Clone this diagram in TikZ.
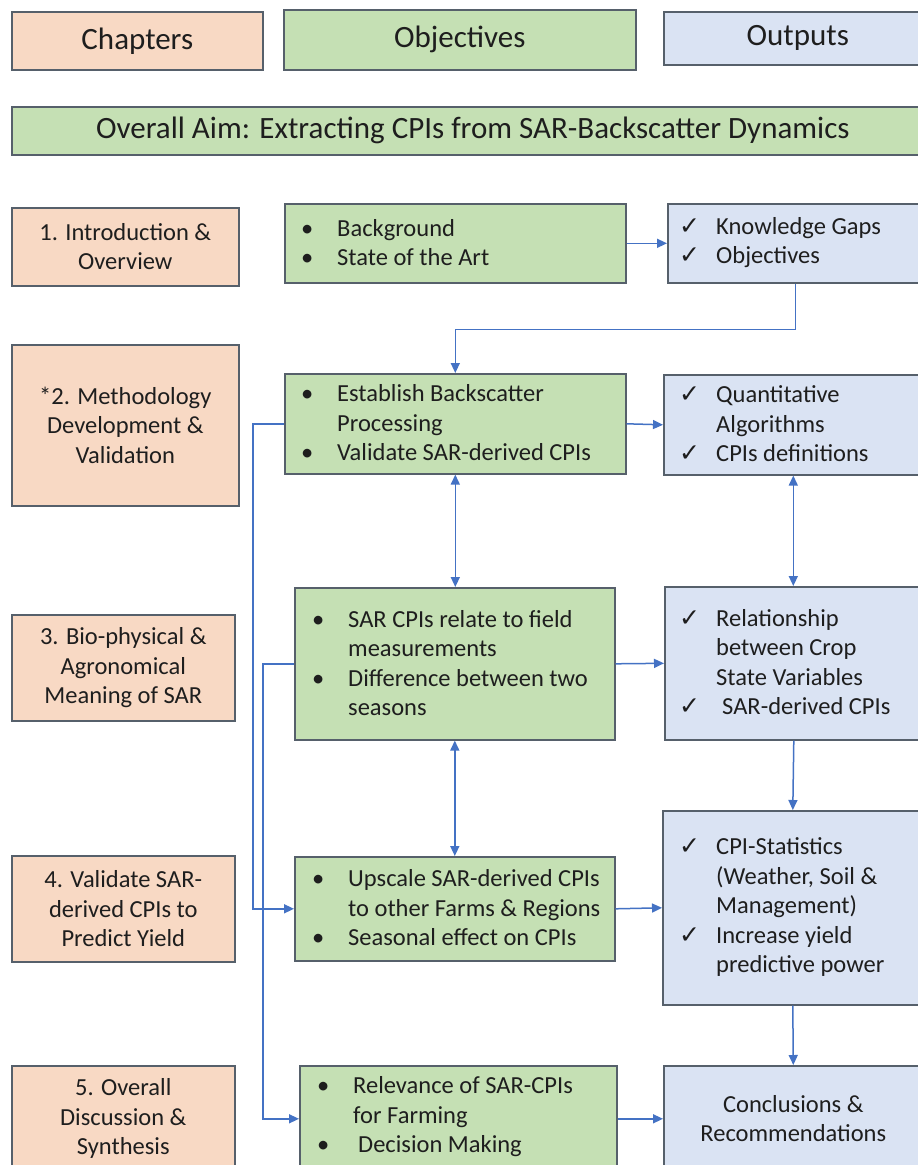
\documentclass[tikz,border=0pt]{standalone}
\usepackage{fontspec}
\setmainfont{Carlito}
\newfontfamily\dejavu{DejaVu Sans}
\usetikzlibrary{arrows.meta}
\definecolor{chapfill}{HTML}{F8D9C4}
\definecolor{objfill}{HTML}{C5E0B4}
\definecolor{outfill}{HTML}{DAE3F3}
\definecolor{boxline}{HTML}{56606B}
\definecolor{connc}{HTML}{4472C4}
\definecolor{txtc}{HTML}{1E1E1E}
\newcommand\bodyfont{\fontsize{24.5}{29.5}\selectfont}
\newcommand\headfont{\fontsize{31}{37}\selectfont}
\newcommand\myB{\makebox[36pt][l]{•}}
\newcommand\myI{\makebox[36pt]{}}
\newcommand\myC{\makebox[37pt][l]{{\dejavu\fontsize{25}{25}\selectfont ✓}}}
\newcommand\myJ{\makebox[37pt]{}}
\tikzset{
  box/.style={draw=boxline, line width=1.6pt, anchor=north west, inner sep=0pt, text=txtc},
  chap/.style={box, fill=chapfill, align=center, font=\bodyfont},
  obj/.style={box, fill=objfill},
  outb/.style={box, fill=outfill, align=center, font=\bodyfont},
  lst/.style={anchor=west, align=left, inner sep=0pt, text=txtc, font=\bodyfont},
  conn/.style={draw=connc, line width=1.5pt},
  arr/.style={conn, -{Triangle[length=10pt,width=9pt]}},
  darr/.style={conn, {Triangle[length=10pt,width=9pt]}-{Triangle[length=10pt,width=9pt]}}
}
\begin{document}
\begin{tikzpicture}[x=1pt,y=-1pt]
\useasboundingbox (0,0) rectangle (918,1165);
\clip (0,0) rectangle (918,1165);
\fill[white] (0,0) rectangle (918,1165);
% headers
\node[box, fill=chapfill, font=\headfont, minimum width=251pt, minimum height=58pt] (hch) at (11,11) {Chapters};
\node[box, fill=objfill, font=\headfont, minimum width=352pt, minimum height=60pt] (hob) at (283,9) {Objectives};
\node[box, fill=outfill, font=\headfont, minimum width=268pt, minimum height=53pt] (hou) at (663,11) {Outputs};
\node[box, fill=objfill, font=\headfont, minimum width=922pt, minimum height=48pt] (aim) at (11,106) {Overall Aim: Extracting CPIs from SAR-Backscatter Dynamics};
% chapters
\node[chap, minimum width=227pt, minimum height=78pt] (ch1) at (11,207) {1. Introduction \&\\Overview};
\node[chap, minimum width=227pt, minimum height=161pt] (ch2) at (11,344) {*2. Methodology\\Development \&\\Validation};
\node[chap, minimum width=223pt, minimum height=106pt] (ch3) at (11,614) {3. Bio-physical \&\\Agronomical\\Meaning of SAR};
\node[chap, minimum width=223pt, minimum height=106pt] (ch4) at (11,855) {4. Validate SAR-\\derived CPIs to\\Predict Yield};
\node[chap, minimum width=223pt, minimum height=106pt] (ch5) at (11,1065) {5. Overall\\Discussion \&\\Synthesis};
% objectives
\node[obj, minimum width=341pt, minimum height=79pt] (o1) at (284,203) {};
\node[obj, minimum width=341pt, minimum height=100pt] (o2) at (284,373) {};
\node[obj, minimum width=320pt, minimum height=152pt] (o3) at (294,587) {};
\node[obj, minimum width=320pt, minimum height=104pt] (o4) at (294,856) {};
\node[obj, minimum width=317pt, minimum height=106pt] (o5) at (299,1065) {};
\node[lst] (o1t) at (301,242.5) {\myB Background\\\myB State of the Art};
\node[lst] (o2t) at (301,423) {\myB Establish Backscatter\\\myI Processing\\\myB Validate SAR-derived CPIs};
\node[lst] (o3t) at (312,663) {\myB SAR CPIs relate to field\\\myI measurements\\\myB Difference between two\\\myI seasons};
\node[lst] (o4t) at (312,908) {\myB Upscale SAR-derived CPIs\\\myI to other Farms \& Regions\\\myB Seasonal effect on CPIs};
\node[lst] (o5t) at (317,1117) {\myB Relevance of SAR-CPIs\\\myI for Farming\\\myB\hspace{5pt}Decision Making};
% outputs
\node[outb, minimum width=255pt, minimum height=79pt] (p1) at (667,203) {};
\node[outb, minimum width=259pt, minimum height=100pt] (p2) at (663,374) {};
\node[outb, minimum width=258pt, minimum height=153pt] (p3) at (664,586) {};
\node[outb, minimum width=260pt, minimum height=194pt] (p4) at (662,810) {};
\node[outb, minimum width=259pt, minimum height=106pt] (p5) at (663,1065) {Conclusions \&\\Recommendations};
\node[lst] (p1t) at (679,242.5) {\myC Knowledge Gaps\\\myC Objectives};
\node[lst] (p2t) at (679,424) {\myC Quantitative\\\myJ Algorithms\\\myC CPIs definitions};
\node[lst] (p3t) at (679,662) {\myC Relationship\\\myJ between Crop\\\myJ State Variables\\\myC\hspace{6pt}SAR-derived CPIs};
\node[lst] (p4t) at (679,907) {\myC CPI-Statistics\\\myJ (Weather, Soil \&\\\myJ Management)\\\myC Increase yield\\\myJ predictive power};
% connectors
\draw[arr] (o1.east) -- (p1.west);
\draw[arr] (p1.south) -- ++(0,46) -| (o2.north);
\draw[arr] (o2.east) -- (p2.west);
\draw[darr] (o2.south) -- (o2.south |- o3.north);
\draw[darr] (p2.south) -- (p2.south |- p3.north);
\draw[arr] (o3.east) -- (p3.west);
\draw[darr] (o3.south) -- (o3.south |- o4.north);
\draw[arr] (p3.south) -- (p4.north);
\draw[arr] (o4.east) -- (p4.west);
\draw[arr] (p4.south) -- (p5.north);
\draw[arr] (o5.east) -- (p5.west);
\draw[arr] (o2.west) -- ++(-31,0) |- (o4.west);
\draw[arr] (o3.west) -- ++(-31,0) |- (o5.west);
\end{tikzpicture}
\end{document}
